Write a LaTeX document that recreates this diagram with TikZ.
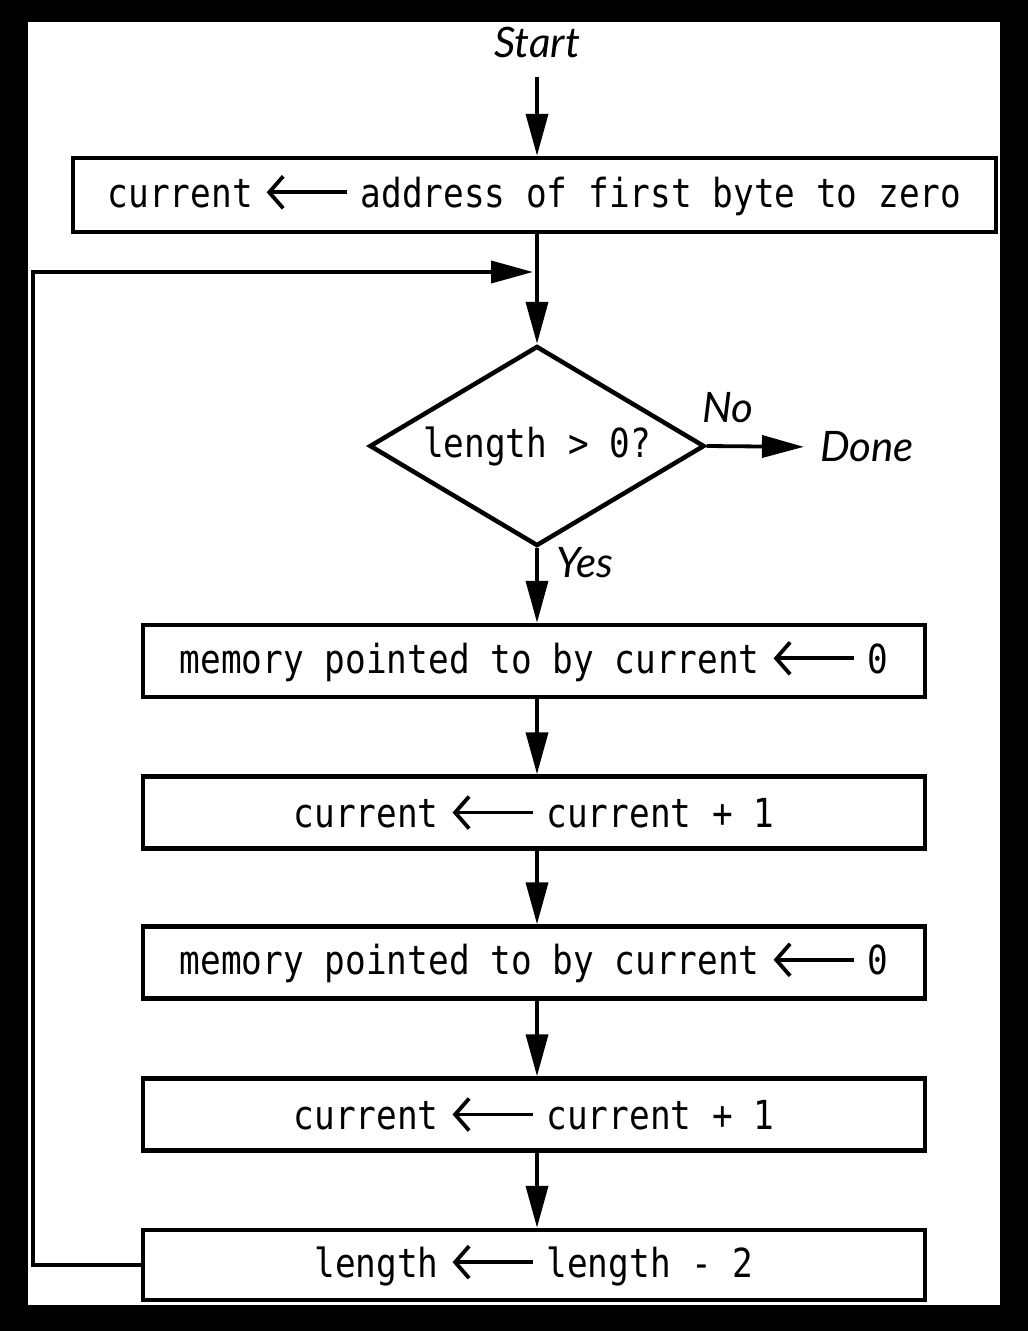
\documentclass[tikz,border=0pt]{standalone}
\usepackage{fontspec}
\usetikzlibrary{arrows.meta,shapes.geometric}
\newfontfamily\monofnt[FakeStretch=0.86]{DejaVu Sans Mono}
\newfontfamily\labfnt{Lato}
\newcommand{\txtarrow}{\hspace{12pt}\tikz[baseline={(0pt,-15pt)}]\draw[line width=3.8pt,{Straight Barb[length=14pt,width=32pt,line width=3.8pt]}-](0pt,0pt)--(80pt,0pt);\hspace{12pt}}
\begin{document}
\begin{tikzpicture}[x=1pt,y=-1pt,
  stepbox/.style={draw=black,line width=4.5pt,rectangle,inner sep=0pt,font=\monofnt\fontsize{40}{42}\selectfont},
  decbox/.style={draw=black,line width=4.5pt,diamond,shape aspect=1.675,inner sep=0pt,minimum width=335pt,minimum height=200pt,font=\monofnt\fontsize{40}{42}\selectfont},
  lab/.style={font=\labfnt\itshape\fontsize{42}{44}\selectfont,inner sep=0pt},
  arr/.style={line width=3.8pt,-{Triangle[length=42pt,width=22pt]}},
  plain/.style={line width=3.8pt}]
\fill[black] (0,0) rectangle (1028,1331);
\fill[white] (28,22) rectangle (1000,1305);
\node[lab,inner ysep=19pt] (start) at (537,42) {Start};
\node[stepbox,minimum width=923pt,minimum height=74pt] (b1) at (534.5,195) {current\txtarrow address of first byte to zero};
\node[decbox] (d) at (537,446) {length > 0?};
\node[lab] (done) at (867,447) {Done};
\node[lab] (no) at (728,408) {No};
\node[lab] (yes) at (585,563) {Yes};
\node[stepbox,minimum width=782pt,minimum height=72pt] (b2) at (534,661) {memory pointed to by current\txtarrow 0};
\node[stepbox,minimum width=782pt,minimum height=72pt] (b3) at (534,812.5) {current\txtarrow current + 1};
\node[stepbox,minimum width=782pt,minimum height=72pt] (b4) at (534,962.5) {memory pointed to by current\txtarrow 0};
\node[stepbox,minimum width=782pt,minimum height=72pt] (b5) at (534,1114.5) {current\txtarrow current + 1};
\node[stepbox,minimum width=782pt,minimum height=70pt] (b6) at (534,1265) {length\txtarrow length - 2};
\coordinate (loopL) at (33,1265);
\coordinate (join) at (533,272);
\draw[arr] (start.south -| d.north) -- (b1.north -| d.north);
\draw[arr] (b1.south -| d.north) -- (d.north);
\draw[arr] (b6.west) -- (loopL) |- (join);
\draw[arr,shorten >=16pt] (d.east) -- (done.west);
\draw[arr] (d.south) -- (b2.north -| d.south);
\draw[arr] (b2.south -| d.south) -- (b3.north -| d.south);
\draw[arr] (b3.south -| d.south) -- (b4.north -| d.south);
\draw[arr] (b4.south -| d.south) -- (b5.north -| d.south);
\draw[arr] (b5.south -| d.south) -- (b6.north -| d.south);
\end{tikzpicture}
\end{document}
